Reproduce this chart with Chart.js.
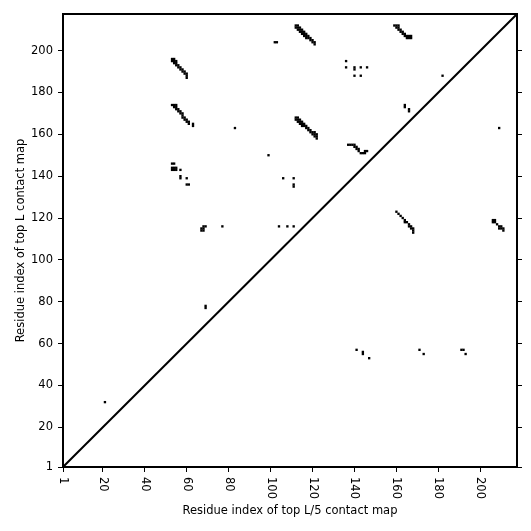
<!DOCTYPE html>
<html>
<head>
<meta charset="utf-8">
<script src="https://cdn.jsdelivr.net/npm/chart.js@4"></script>
<style>
  html, body { margin: 0; padding: 0; background: #fff; }
  #wrap { width: 531px; height: 531px; }
</style>
</head>
<body>
<div id="wrap"><canvas id="map"></canvas></div>
<script>
// residue pairs [i, j] above the diagonal (top L contacts)
const topLContacts = [
  [21, 32], [69, 78], [69, 77],
  [53, 196], [54, 196], [53, 195], [54, 195], [55, 195], [54, 194], [55, 194], [55, 193], [56, 193],
  [56, 192], [57, 192], [57, 191], [58, 191], [58, 190], [59, 190], [59, 189], [60, 189],
  [60, 188], [60, 187],
  [53, 174], [54, 174], [55, 174], [54, 173], [55, 173], [55, 172], [56, 172], [56, 171],
  [57, 171], [57, 170], [58, 170], [58, 169], [58, 168], [59, 168], [59, 167], [60, 167],
  [60, 166], [61, 166], [61, 165], [63, 165], [63, 164],
  [53, 146], [54, 146], [53, 144], [54, 144], [55, 144], [53, 143], [54, 143], [55, 143],
  [57, 143], [57, 140], [57, 139], [60, 139], [60, 136], [61, 136],
  [68, 116], [69, 116], [67, 115], [68, 115], [67, 114], [68, 114],
  [77, 116], [104, 116], [108, 116], [111, 116],
  [83, 163], [99, 150], [106, 139], [111, 139], [111, 136], [111, 135], [102, 204], [103, 204],
  [112, 212], [113, 212], [112, 211], [113, 211], [114, 211], [113, 210], [114, 210], [115, 210],
  [114, 209], [115, 209], [116, 209], [115, 208], [116, 208], [117, 208], [116, 207], [117, 207],
  [118, 207], [117, 206], [118, 206], [119, 206], [119, 205], [120, 205], [120, 204], [121, 204],
  [121, 203],
  [112, 168], [113, 168], [112, 167], [113, 167], [114, 167], [113, 166], [114, 166], [115, 166],
  [114, 165], [115, 165], [116, 165], [115, 164], [116, 164], [117, 164], [117, 163], [118, 163],
  [118, 162], [119, 162], [119, 161], [120, 161], [120, 160], [121, 160], [121, 159], [122, 159],
  [122, 158], [122, 160], [121, 161],
  [136, 195], [136, 192], [140, 192], [140, 191], [143, 192], [146, 192], [140, 188], [143, 188],
  [137, 155], [138, 155], [139, 155], [140, 155], [140, 154], [141, 154], [141, 153], [142, 153],
  [142, 152], [143, 151], [144, 151], [145, 151], [145, 152], [146, 152],
  [159, 212], [160, 212], [161, 212], [160, 211], [161, 211], [161, 210], [162, 210], [162, 209],
  [163, 209], [163, 208], [164, 208], [164, 207], [165, 207], [166, 207], [167, 207],
  [165, 206], [166, 206], [167, 206],
  [164, 174], [164, 173], [166, 172], [166, 171], [182, 188]
];

// residue pairs below the diagonal (top L/5 contacts)
const topL5Contacts = [
  [209, 163],
  [160, 123], [161, 122], [162, 121], [163, 120], [164, 119], [164, 118], [165, 118],
  [166, 117], [166, 116], [167, 116], [167, 115], [168, 115], [168, 114], [168, 113],
  [206, 119], [207, 119], [206, 118], [207, 118], [208, 117], [209, 116], [210, 116],
  [209, 115], [210, 115], [211, 115], [211, 114],
  [141, 57], [144, 56], [144, 55], [147, 53], [171, 57], [173, 55], [191, 57], [192, 57], [193, 55]
];

const tickValues = [1, 20, 40, 60, 80, 100, 120, 140, 160, 180, 200];
const axisMin = 1;
const axisMax = 217.5;

const FONT = "DejaVu Sans";

function toPoints(pairs) {
  return pairs.map(([i, j]) => ({ x: i, y: j }));
}

// one cell = one residue step wide (a touch bigger so neighbours join)
function cellRadius(ctx) {
  const s = ctx.chart.scales.x;
  if (!s) return 1.6;
  const w = Math.abs(s.getPixelForValue(2) - s.getPixelForValue(1));
  return w * Math.SQRT1_2 * 1.12;
}

function setTicks(scale) {
  scale.ticks = tickValues.map((v) => ({ value: v }));
}

// x tick labels read top to bottom
const rotatedXLabels = {
  id: "rotatedXLabels",
  afterDraw(chart) {
    const { ctx, scales } = chart;
    const x = scales.x;
    const y0 = chart.chartArea.bottom + 10;
    ctx.save();
    ctx.font = `11.5px "${FONT}"`;
    ctx.fillStyle = "#000";
    ctx.textAlign = "left";
    ctx.textBaseline = "middle";
    tickValues.forEach((v) => {
      ctx.save();
      ctx.translate(x.getPixelForValue(v), y0);
      ctx.rotate(Math.PI / 2);
      ctx.fillText(String(v), 0, 0);
      ctx.restore();
    });
    ctx.restore();
  },
};

const tickGrid = {
  display: true,
  drawOnChartArea: false,
  drawTicks: true,
  tickLength: 5,
  color: "#000",
  lineWidth: 1,
};
const frame = { display: true, color: "#000", width: 2 };

new Chart(document.getElementById("map"), {
  type: "scatter",
  data: {
    datasets: [
      {
        label: "top L",
        data: toPoints(topLContacts),
        pointStyle: "rect",
        pointRadius: cellRadius,
        pointHoverRadius: cellRadius,
        borderWidth: 0,
        backgroundColor: "#000",
      },
      {
        label: "top L/5",
        data: toPoints(topL5Contacts),
        pointStyle: "rect",
        pointRadius: cellRadius,
        pointHoverRadius: cellRadius,
        borderWidth: 0,
        backgroundColor: "#000",
      },
      {
        type: "line",
        label: "diagonal",
        data: [
          { x: axisMin, y: axisMin },
          { x: axisMax, y: axisMax },
        ],
        borderColor: "#000",
        borderWidth: 2,
        pointRadius: 0,
      },
    ],
  },
  options: {
    responsive: true,
    maintainAspectRatio: false,
    animation: false,
    layout: { padding: 0 },
    plugins: {
      legend: { display: false },
      tooltip: { enabled: false },
    },
    scales: {
      x: {
        type: "linear",
        position: "bottom",
        min: axisMin,
        max: axisMax,
        afterBuildTicks: setTicks,
        afterFit: (s) => { s.height = 64; },
        grid: tickGrid,
        border: frame,
        ticks: { display: false },
        title: {
          display: true,
          text: "Residue index of top L/5 contact map",
          color: "#000",
          font: { family: FONT, size: 11.5 },
          padding: { top: 4, bottom: 13 },
        },
      },
      x2: {
        type: "linear",
        position: "top",
        min: axisMin,
        max: axisMax,
        afterFit: (s) => { s.height = 14; },
        grid: { display: false },
        border: frame,
        ticks: { display: false },
      },
      y: {
        type: "linear",
        position: "left",
        min: axisMin,
        max: axisMax,
        afterBuildTicks: setTicks,
        afterFit: (s) => { s.width = 63; },
        grid: tickGrid,
        border: frame,
        ticks: {
          color: "#000",
          padding: 5,
          font: { family: FONT, size: 11.5 },
        },
        title: {
          display: true,
          text: "Residue index of top L contact map",
          color: "#000",
          font: { family: FONT, size: 11.5 },
          padding: { top: 14, bottom: 4 },
        },
      },
      y2: {
        type: "linear",
        position: "right",
        min: axisMin,
        max: axisMax,
        afterBuildTicks: setTicks,
        afterFit: (s) => { s.width = 14; },
        grid: tickGrid,
        border: frame,
        ticks: { display: false },
      },
    },
  },
  plugins: [rotatedXLabels],
});
</script>
</body>
</html>
